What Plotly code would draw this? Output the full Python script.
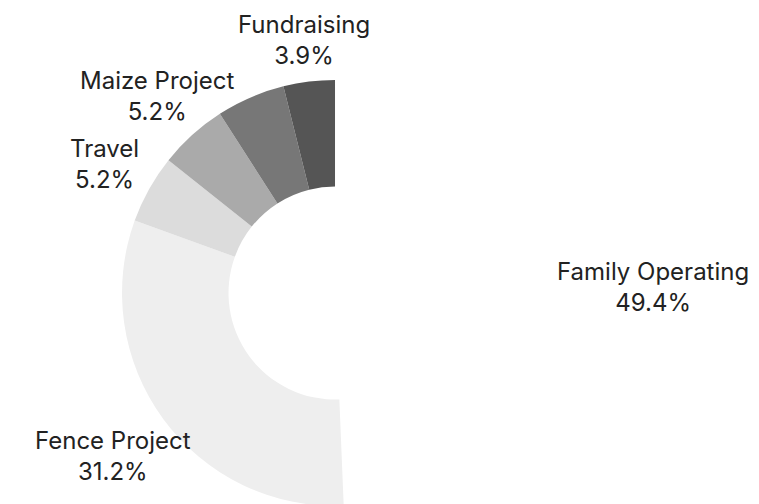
import math
import plotly.graph_objects as go

labels = ["Family Operating", "Fence Project", "Travel", "Maize Project", "Other", "Fundraising"]
values = [38, 24, 4, 4, 4, 3]
show_label = [True, True, True, True, False, True]
colors = ["#ffffff", "#eeeeee", "#dcdcdc", "#aaaaaa", "#777777", "#555555"]

W, H = 759, 504
dom_x = [0.1502, 0.7115]
dom_y = [0.0119, 0.8571]
font_size = 24
font_family = "Inter"

fig = go.Figure(go.Pie(
    labels=labels,
    values=values,
    hole=0.5,
    sort=False,
    direction="clockwise",
    rotation=0,
    marker=dict(colors=colors, line=dict(width=0)),
    textinfo="none",
    hoverinfo="label+percent",
    domain=dict(x=dom_x, y=dom_y),
    showlegend=False,
))

# outside labels: centred on each slice's mid-angle ray, pushed out until the
# text box clears a circle just outside the donut
cx = (dom_x[0] + dom_x[1]) / 2 * W
cy = (dom_y[0] + dom_y[1]) / 2 * H
r = min((dom_x[1] - dom_x[0]) * W, (dom_y[1] - dom_y[0]) * H) / 2
gap = 10
total = sum(values)
cum = 0
for lab, val, show in zip(labels, values, show_label):
    mid = (cum + val / 2) / total * 2 * math.pi
    cum += val
    if not show:
        continue
    s, c = math.sin(mid), math.cos(mid)
    pct = f"{val / total:.1%}"
    half_w = max(len(lab), len(pct)) * font_size * 0.495 / 2
    half_h = 1.3 * font_size
    d = r + gap + min(half_w / max(abs(s), 1e-6), half_h / max(abs(c), 1e-6))
    x = cx + d * s
    y = cy + d * c
    fig.add_annotation(
        x=x / W, y=y / H, xref="paper", yref="paper",
        text=f"{lab}<br>{pct}", showarrow=False,
        xanchor="center", yanchor="middle",
        font=dict(size=font_size, color="#222222", family=font_family),
    )

fig.update_layout(
    width=W, height=H,
    margin=dict(t=0, b=0, l=0, r=0),
    paper_bgcolor="white",
    font=dict(family=font_family),
)

fig.write_html("out.html")
